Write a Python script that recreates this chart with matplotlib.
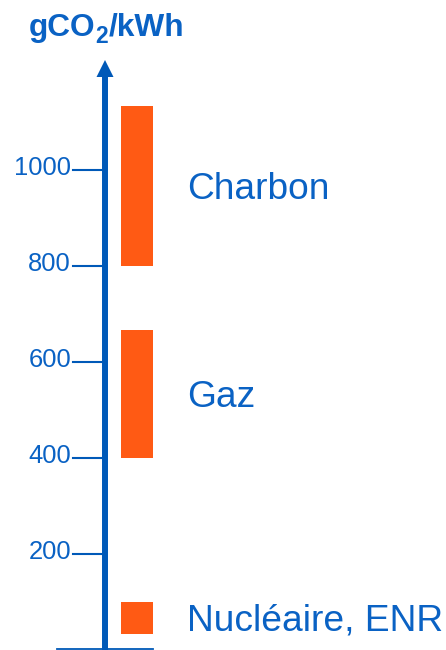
import matplotlib
matplotlib.use('Agg')
import matplotlib.pyplot as plt

plt.rcParams['font.family'] = ['Liberation Sans', 'DejaVu Sans']

# data (gCO2/kWh ranges)
sources = ['Charbon', 'Gaz', 'Nucléaire, ENR']
low = [800, 400, 33]
high = [1133, 666, 100]
ticks = [200, 400, 600, 800, 1000]

blue = '#0059B8'
txt = '#0A62C4'
orange = '#FF5A14'

W, H = 446, 650
ppu = 0.48  # pixels per gCO2/kWh
fig = plt.figure(figsize=(W / 100, H / 100), dpi=100)
ax = fig.add_axes([0, 0, 1, 1])
ax.set_xlim(0, W)
ax.set_ylim(0, H / ppu)
ax.axis('off')

ax_x = 105
top = (H - 77) / ppu
tip = (H - 60) / ppu

# bars
ax.bar([137] * len(sources), [h - l for h, l in zip(high, low)], bottom=low,
       width=32, color=orange, zorder=2)

# labels for each source
for s, l, h in zip(sources, low, high):
    ax.text(187, (l + h) / 2 - 12.5 / ppu, s, fontsize=26.7, color=txt,
            ha='left', va='baseline')

# vertical axis with arrow
ax.plot([ax_x, ax_x], [0, top], color=blue, lw=4.3, solid_capstyle='butt', zorder=3)
ax.fill([ax_x - 8.5, ax_x + 8.5, ax_x], [top, top, tip], color=blue, lw=0, zorder=3)
ax.plot([57, 153], [1.5, 1.5], color=blue, lw=1.3, zorder=3)

# ticks
for t in ticks:
    ax.plot([73, ax_x], [t, t], color=blue, lw=1.5, zorder=1)
    ax.text(71, t - 4.6 / ppu, str(t), fontsize=18.4, color=txt,
            ha='right', va='baseline')

# unit title, built in pieces so the subscript stays large
t1 = ax.text(29, (H - 36) / ppu, 'gCO', fontsize=22.8, fontweight='bold',
             color=txt, ha='left', va='baseline')
t2 = ax.annotate('2', xy=(1, 0), xycoords=t1, xytext=(0, -3.5), textcoords='offset points',
                 fontsize=16.5, fontweight='bold', color=txt, ha='left', va='bottom')
ax.annotate('/kWh', xy=(1, 0), xycoords=(t2, t1), xytext=(0, 0), textcoords='offset points',
            fontsize=22.8, fontweight='bold', color=txt, ha='left', va='bottom')

fig.savefig('out.png', dpi=100)
